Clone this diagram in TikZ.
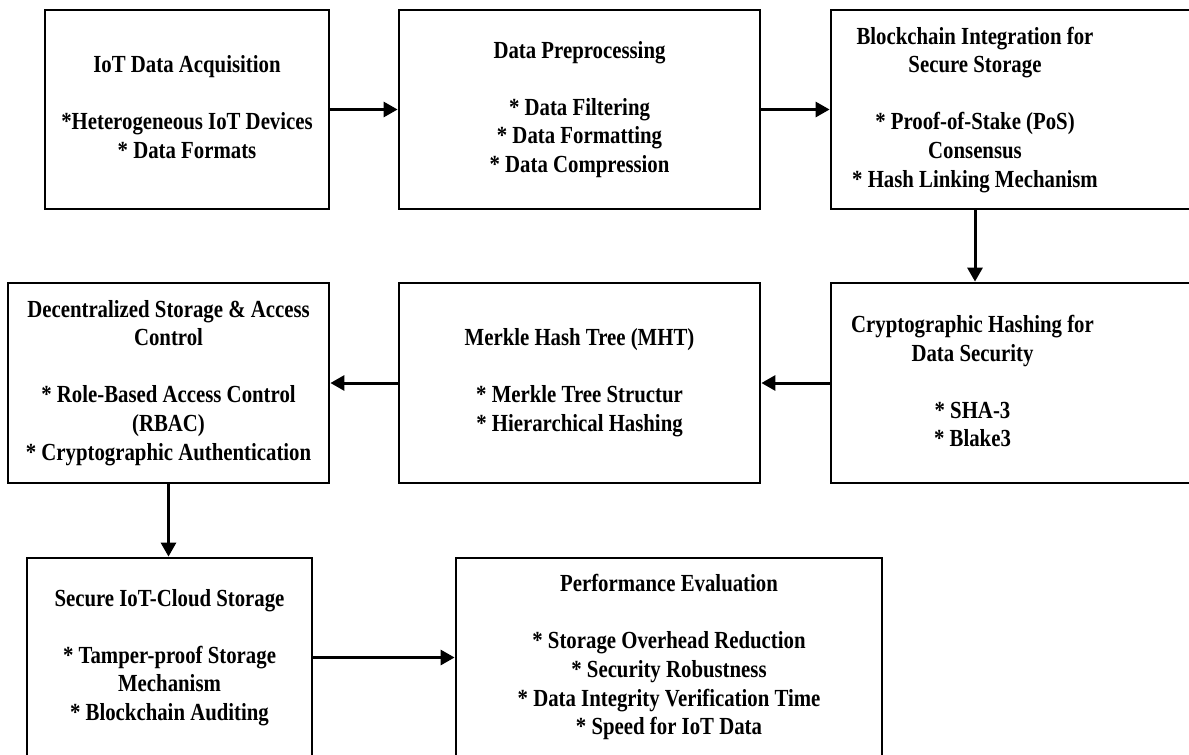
\documentclass[tikz,border=0pt]{standalone}
\usepackage{fontspec}
\usepackage{graphicx}
\setmainfont{Liberation Serif}
\usetikzlibrary{arrows.meta, positioning, calc}
\newcommand{\blankline}{\\[12.1pt]}
\newcommand{\tall}[1]{\scalebox{1}[1.18]{\begin{tabular}{@{}c@{}}#1\end{tabular}}}

\begin{document}
\begin{tikzpicture}[x=0.5pt, y=-0.5pt,
	stage/.style = {draw, line width=1.4pt, inner sep=0pt, align=center, font=\fontsize{10.4}{12.1}\selectfont\bfseries},
	frame/.style = {draw, line width=1.4pt, inner sep=0pt},
	caption/.style = {align=center, inner sep=0pt, font=\fontsize{10.4}{12.1}\selectfont\bfseries},
	flow/.style = {-{Triangle[length=7pt, width=7.5pt]}, line width=1.5pt}]
	\useasboundingbox (0,0) rectangle (1189,755);
	\clip (0,0) rectangle (1189,755);
	% first row
	\node[stage, minimum width=142pt, minimum height=99.5pt] at (187,109.5) (acq) {\tall{IoT Data Acquisition\blankline *Heterogeneous IoT Devices\\ {*} Data Formats}};
	\node[stage, minimum width=180.5pt, minimum height=99.5pt] at (579.5,109.5) (prep) {\tall{Data Preprocessing\blankline * Data Filtering\\ {*} Data Formatting\\ {*} Data Compression}};
	\node[frame, minimum width=184.5pt, minimum height=99.5pt] at (1015.5,109.5) (chain) {};
	\node[caption] at (975,110) (chaintxt) {\tall{Blockchain Integration for\\ Secure Storage\blankline * Proof-of-Stake (PoS)\\ Consensus\\ {*} Hash Linking Mechanism}};
	% second row
	\node[frame, minimum width=184.5pt, minimum height=100pt] at (1015.5,383) (hash) {};
	\node[caption] at (972.5,384) (hashtxt) {\tall{Cryptographic Hashing for\\ Data Security\blankline * SHA-3\\ {*} Blake3}};
	\node[stage, minimum width=180.5pt, minimum height=100pt] at (579.5,383) (merkle) {\tall{Merkle Hash Tree (MHT)\blankline * Merkle Tree Structur\\ {*} Hierarchical Hashing}};
	\node[stage, minimum width=160.5pt, minimum height=100pt] at (168.5,383) (access) {\tall{Decentralized Storage \& Access\\ Control\blankline * Role-Based Access Control\\ (RBAC)\\ {*} Cryptographic Authentication}};
	% third row
	\node[stage, minimum width=142.5pt, minimum height=99.5pt] at (169.5,657.5) (cloud) {\tall{Secure IoT-Cloud Storage\blankline * Tamper-proof Storage\\ Mechanism\\ {*} Blockchain Auditing}};
	\node[stage, minimum width=213pt, minimum height=99.5pt] at (669,657.5) (eval) {\tall{Performance Evaluation\blankline * Storage Overhead Reduction\\ {*} Security Robustness\\ {*} Data Integrity Verification Time\\ {*} Speed for IoT Data}};
	% connectors
	\draw[flow] (acq.east) -- (prep.west);
	\draw[flow] (prep.east) -- (chain.west);
	\draw[flow] (chaintxt |- chain.south) -- (chaintxt |- hash.north);
	\draw[flow] (hash.west) -- (merkle.east);
	\draw[flow] (merkle.west) -- (access.east);
	\draw[flow] (access.south) -- (access.south |- cloud.north);
	\draw[flow] (cloud.east) -- (eval.west);
\end{tikzpicture}
\end{document}
